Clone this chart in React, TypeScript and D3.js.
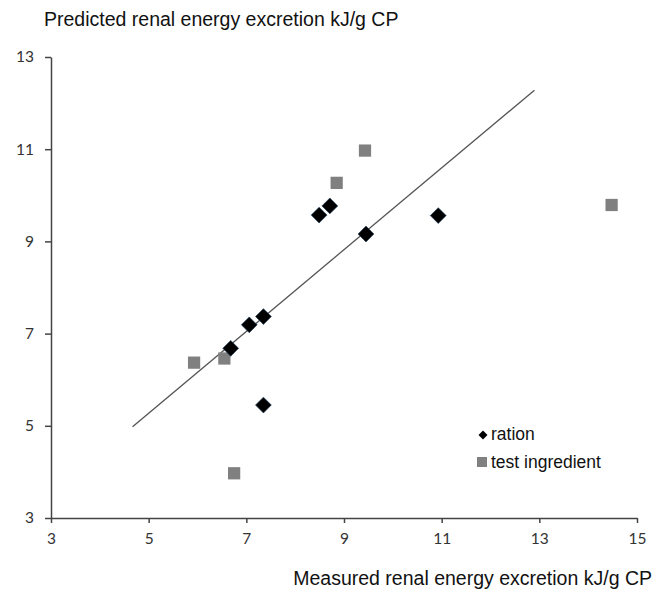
import React, { useRef, useEffect } from 'react';
import * as d3 from 'd3';

// measured vs predicted, kJ/g CP
const rationX = [6.68, 7.06, 7.35, 7.35, 8.49, 8.71, 9.45, 10.93];
const rationY = [6.68, 7.19, 7.37, 5.45, 9.57, 9.77, 9.16, 9.56];
const testX = [5.93, 6.55, 6.75, 8.85, 9.43, 14.48];
const testY = [6.37, 6.46, 3.97, 10.27, 10.97, 9.79];
// trend line end points
const lineX = [4.67, 12.9];
const lineY = [4.98, 12.28];
const xTicks = [3, 5, 7, 9, 11, 13, 15];
const yTicks = [3, 5, 7, 9, 11, 13];

const App = () => {
  const ref = useRef<SVGSVGElement>(null);

  useEffect(() => {
    const svg = d3.select(ref.current);
    svg.selectAll('*').remove();
    const width = 663;
    const height = 593;

    const x = d3.scaleLinear().domain([3, 15]).range([51, 637]);
    const y = d3.scaleLinear().domain([3, 13]).range([518, 57]);
    const axisColor = '#444';
    const tickFont = 'Lato, "Open Sans", sans-serif';
    const labelFont = '"Liberation Sans", Arial, sans-serif';

    svg.attr('width', width).attr('height', height);

    // axes
    const gx = svg.append('g')
      .attr('transform', `translate(0,${y(3)})`)
      .call(d3.axisBottom(x).tickValues(xTicks).tickSize(5).tickSizeOuter(0).tickFormat(d3.format('d')));
    gx.select('.domain').attr('stroke', axisColor).attr('stroke-width', 1.5);
    gx.selectAll('.tick line').attr('stroke', axisColor).attr('stroke-width', 1.5);
    gx.selectAll('.tick text')
      .attr('fill', '#333').attr('font-size', 15.5).attr('font-family', tickFont).attr('dy', '1.15em');

    const gy = svg.append('g')
      .attr('transform', `translate(${x(3)},0)`)
      .call(d3.axisLeft(y).tickValues(yTicks).tickSize(6).tickSizeOuter(0).tickFormat(d3.format('d')));
    gy.select('.domain').attr('stroke', axisColor).attr('stroke-width', 1.5);
    gy.selectAll('.tick line').attr('stroke', axisColor).attr('stroke-width', 1.5);
    gy.selectAll('.tick text')
      .attr('fill', '#333').attr('font-size', 15.5).attr('font-family', tickFont).attr('x', -17);

    // trend line
    const line = d3.line<number>().x((d, i) => x(lineX[i])).y((d, i) => y(lineY[i]));
    svg.append('path')
      .datum(lineY)
      .attr('fill', 'none')
      .attr('stroke', '#555')
      .attr('stroke-width', 1.3)
      .attr('d', line);

    const diamond = d3.symbol().type(d3.symbolSquare).size(125)();
    const square = d3.symbol().type(d3.symbolSquare).size(150)();

    svg.append('g').selectAll('path')
      .data(testX)
      .join('path')
      .attr('d', square)
      .attr('fill', '#808080')
      .attr('transform', (d, i) => `translate(${x(d)},${y(testY[i])})`);

    svg.append('g').selectAll('path')
      .data(rationX)
      .join('path')
      .attr('d', diamond)
      .attr('fill', '#000')
      .attr('stroke', '#1a3a5a')
      .attr('stroke-width', 0.6)
      .attr('transform', (d, i) => `translate(${x(d)},${y(rationY[i])}) rotate(45)`);

    // legend
    const legend = svg.append('g').attr('font-family', labelFont).attr('font-size', 17.5).attr('fill', '#111');
    legend.append('path')
      .attr('d', d3.symbol().type(d3.symbolSquare).size(40)())
      .attr('fill', '#000')
      .attr('transform', 'translate(483,435) rotate(45)');
    legend.append('text').attr('x', 491).attr('y', 440).text('ration');
    legend.append('rect')
      .attr('x', 477).attr('y', 457).attr('width', 10).attr('height', 10)
      .attr('fill', '#808080');
    legend.append('text').attr('x', 491).attr('y', 468).text('test ingredient');

    // axis titles
    svg.append('text')
      .attr('x', 44).attr('y', 26)
      .attr('font-family', labelFont).attr('font-size', 19.5).attr('fill', '#111')
      .text('Predicted renal energy excretion kJ/g CP');
    svg.append('text')
      .attr('x', 652).attr('y', 585)
      .attr('text-anchor', 'end')
      .attr('font-family', labelFont).attr('font-size', 19.5).attr('fill', '#111')
      .text('Measured renal energy excretion kJ/g CP');
  }, []);

  return (
    <svg ref={ref} style={{ position: 'absolute', left: 0, top: 0, background: '#fff' }} />
  );
};

export default App;
